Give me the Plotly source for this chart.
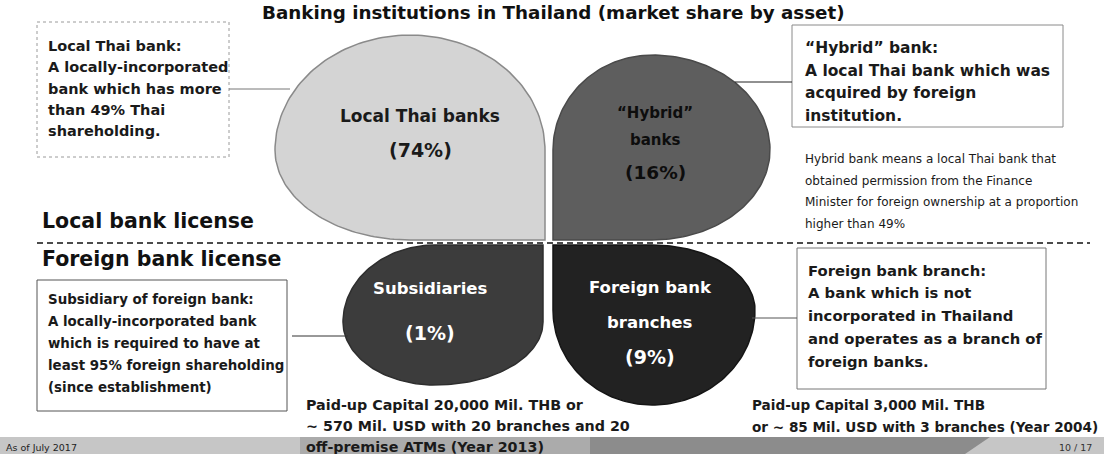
import numpy as np
import plotly.graph_objects as go

# market share by asset (%)
segments = ['Local Thai banks', '“Hybrid” banks', 'Subsidiaries', 'Foreign bank branches']
shares = [74, 16, 1, 9]
# lines shown inside each petal (percent line is appended from shares)
petal_lines = [['Local Thai banks'], ['“Hybrid”', 'banks'], ['Subsidiaries'], ['Foreign bank', 'branches']]

title = 'Banking institutions in Thailand (market share by asset)'
box_local = ['Local Thai bank:', 'A locally-incorporated', 'bank which has more',
             'than 49% Thai', 'shareholding.']
box_hybrid = ['“Hybrid” bank:', 'A local Thai bank which was', 'acquired by foreign', 'institution.']
note_hybrid = ['Hybrid bank means a local Thai bank that', 'obtained permission from the Finance',
               'Minister for foreign ownership at a proportion', 'higher than 49%']
box_sub = ['Subsidiary of foreign bank:', 'A locally-incorporated bank', 'which is required to have at',
           'least 95% foreign shareholding', '(since establishment)']
box_fbb = ['Foreign bank branch:', 'A bank which is not', 'incorporated in Thailand',
           'and operates as a branch of', 'foreign banks.']
cap_sub = ['Paid-up Capital 20,000 Mil. THB or', '~ 570 Mil. USD with 20 branches and 20',
           'off-premise ATMs (Year 2013)']
cap_fbb = ['Paid-up Capital 3,000 Mil. THB', 'or ~ 85 Mil. USD with 3 branches (Year 2004)']

FONT = 'DejaVu Sans'
W, H = 1104, 454


def petal(cx, cy, rl, rr, rt, rb, corner):
    # ellipse-like blob with one square corner pointing at the centre of the diagram
    start = {'br': 0, 'bl': np.pi / 2, 'tl': np.pi, 'tr': 1.5 * np.pi}[corner]
    t = np.linspace(start + np.pi / 2, start + 2 * np.pi, 160)
    c, s = np.cos(t), np.sin(t)
    x = cx + np.where(c < 0, rl, rr) * c
    y = cy + np.where(s < 0, rt, rb) * s
    kx = cx + (rr if corner in ('br', 'tr') else -rl)
    ky = cy + (rb if corner in ('br', 'bl') else -rt)
    return np.append(x, [kx, x[0]]), np.append(y, [ky, y[0]])


geo = [
    (410, 150, 135, 135, 115, 90, 'br'),
    (652, 150, 99, 118, 95, 90, 'bl'),
    (435, 322, 92, 108, 77, 63, 'tr'),
    (652, 310, 99, 103, 65, 95, 'tl'),
]
fills = ['#d4d4d4', '#5e5e5e', '#3c3c3c', '#222222']
edges = ['#8a8a8a', '#4a4a4a', '#2e2e2e', '#151515']
text_col = ['#1a1a1a', '#0d0d0d', 'white', 'white']
text_pos = [(420, [116], 150), (655, [113, 140], 172), (430, [288], 333), (650, [287, 322], 357)]
text_size = [(17, 19), (15, 18.5), (16.5, 19), (16.5, 19)]

fig = go.Figure()
for i, name in enumerate(segments):
    px, py = petal(*geo[i])
    fig.add_trace(go.Scatter(x=px, y=py, mode='lines', fill='toself', fillcolor=fills[i],
                             line=dict(color=edges[i], width=1.5), name=name,
                             hoverinfo='name', showlegend=False))

ann = []


def add_text(x, y, text, size, bold=True, color='#1a1a1a', anchor='left'):
    ann.append(dict(x=x, y=y, xref='x', yref='y', text='<b>%s</b>' % text if bold else text,
                    showarrow=False, xanchor=anchor, yanchor='middle',
                    font=dict(family=FONT, size=size, color=color)))


def add_lines(x, y0, step, lines, size, bold=True, color='#1a1a1a'):
    for k, ln in enumerate(lines):
        add_text(x, y0 + k * step, ln, size, bold, color)


# petal labels
for i, lines in enumerate(petal_lines):
    cx, ys, yp = text_pos[i]
    for ln, yy in zip(lines, ys):
        add_text(cx, yy, ln, text_size[i][0], True, text_col[i], 'center')
    add_text(cx, yp, '(%d%%)' % shares[i], text_size[i][1], True, text_col[i], 'center')

add_text(553, 12, title, 18.3, True, '#111111', 'center')
add_text(40, 221, 'Local bank license', 20.5, True, '#111111')
add_text(40, 259, 'Foreign bank license', 20.5, True, '#111111')

add_lines(46, 46, 21.3, box_local, 14.5)
add_lines(803, 48, 22.7, box_hybrid, 15.5)
add_lines(803, 159, 21.7, note_hybrid, 12, bold=False)
add_lines(46, 299, 22, box_sub, 13.4)
add_lines(806, 270, 22.8, box_fbb, 14.8)
add_lines(304, 405, 20.8, cap_sub, 14.3)
add_lines(750, 405, 21.8, cap_fbb, 13.6)
add_text(4, 447, 'As of July 2017', 9.5, False, '#222222')
add_text(1094, 447, '10 / 17', 9.5, False, '#333333', 'right')

shapes = [
    # footer band
    dict(type='rect', x0=0, x1=W, y0=437, y1=H, fillcolor='#c6c6c6', line_width=0, layer='below'),
    dict(type='rect', x0=300, x1=590, y0=437, y1=H, fillcolor='#ababab', line_width=0, layer='below'),
    dict(type='path', path='M 590 437 L 990 437 L 965 454 L 590 454 Z', fillcolor='#8c8c8c',
         line_width=0, layer='below'),
    # explanation boxes
    dict(type='rect', x0=37, x1=229, y0=22, y1=157, line=dict(color='#9a9a9a', width=1, dash='dot')),
    dict(type='rect', x0=792, x1=1063, y0=25, y1=127, line=dict(color='#8a8a8a', width=1)),
    dict(type='rect', x0=37, x1=287, y0=280, y1=411, line=dict(color='#555555', width=1)),
    dict(type='rect', x0=797, x1=1046, y0=248, y1=389, line=dict(color='#777777', width=1)),
    # connectors
    dict(type='line', x0=229, x1=290, y0=89, y1=89, line=dict(color='#777777', width=1)),
    dict(type='line', x0=735, x1=792, y0=82, y1=82, line=dict(color='#222222', width=1)),
    dict(type='line', x0=292, x1=348, y0=336, y1=336, line=dict(color='#333333', width=1)),
    dict(type='line', x0=752, x1=797, y0=318, y1=318, line=dict(color='#555555', width=1)),
    # license divider
    dict(type='line', x0=37, x1=1090, y0=243, y1=243, line=dict(color='#111111', width=1.6, dash='6px,4px')),
]

fig.update_layout(
    width=W, height=H, margin=dict(l=0, r=0, t=0, b=0),
    paper_bgcolor='white', plot_bgcolor='white',
    xaxis=dict(range=[0, W], visible=False, fixedrange=True),
    yaxis=dict(range=[H, 0], visible=False, fixedrange=True),
    annotations=ann, shapes=shapes, showlegend=False,
)

# page has a default body margin; drop it so the 1104x454 figure fills the window
fig.write_html('out.html', config={'displayModeBar': False},
               post_script="document.body.style.margin='0';document.body.style.overflow='hidden';")
